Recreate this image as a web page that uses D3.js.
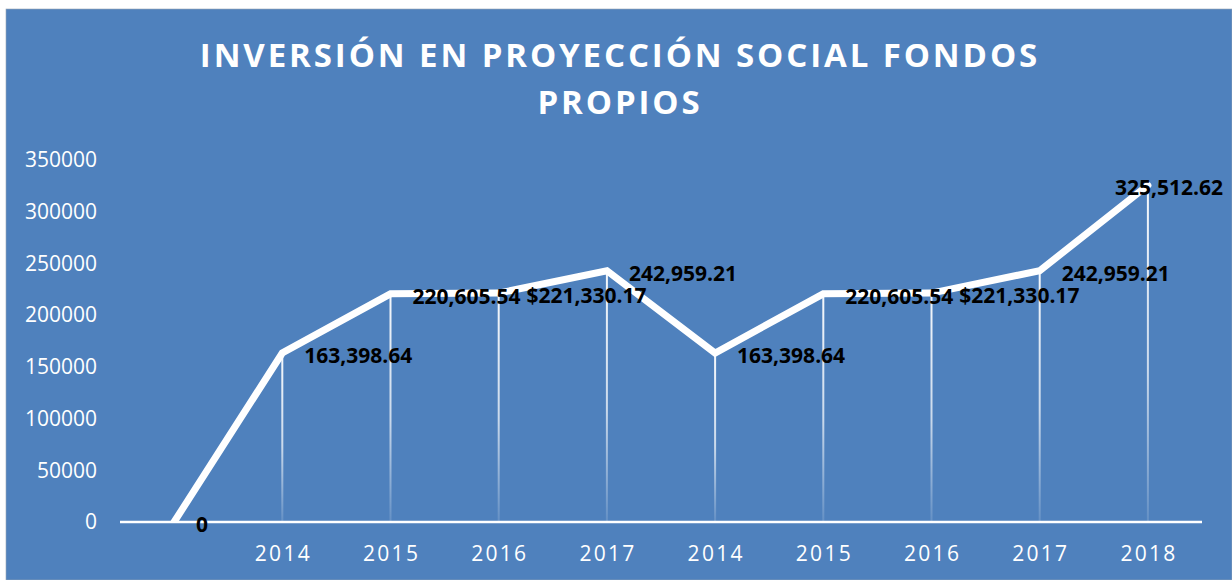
<!DOCTYPE html>
<html>
<head>
<meta charset="utf-8">
<script src="https://cdn.jsdelivr.net/npm/d3@7"></script>
<style>
  html, body { margin: 0; padding: 0; background: #ffffff; }
  svg { display: block; }
</style>
</head>
<body>
<svg id="chart" width="1232" height="580"></svg>
<script>
// ---- data ----
const categories = ["", "2014", "2015", "2016", "2017", "2014", "2015", "2016", "2017", "2018"];
const values = [0, 163398.64, 220605.54, 221330.17, 242959.21, 163398.64, 220605.54, 221330.17, 242959.21, 325512.62];
const valueLabels = ["0", "163,398.64", "220,605.54", "$221,330.17", "242,959.21", "163,398.64", "220,605.54", "$221,330.17", "242,959.21", "325,512.62"];
const yTicks = [0, 50000, 100000, 150000, 200000, 250000, 300000, 350000];
const titleLines = ["INVERSIÓN EN PROYECCIÓN SOCIAL FONDOS", "PROPIOS"];

// ---- layout ----
const W = 1232, H = 580;
const bg = "#4F81BD";
const plot = { left: 120, right: 1202, top: 160, bottom: 522 };

const svg = d3.select("#chart");
const defs = svg.append("defs");

svg.append("rect")
  .attr("x", 6).attr("y", 9)
  .attr("width", W - 6).attr("height", H - 9)
  .attr("fill", bg)
  .attr("stroke", "#9aa7b5").attr("stroke-width", 0.6);

// Title
const title = svg.append("text")
  .attr("text-anchor", "middle")
  .attr("fill", "#ffffff")
  .attr("font-family", "'Open Sans', sans-serif")
  .attr("font-weight", "bold")
  .attr("font-size", 33)
  .attr("letter-spacing", 2.9);
titleLines.forEach((t, i) => {
  title.append("tspan")
    .attr("x", 620)
    .attr("y", 67 + i * 47)
    .text(t);
});

// Scales
const x = d3.scaleBand()
  .domain(d3.range(categories.length))
  .range([plot.left, plot.right])
  .paddingInner(0).paddingOuter(0);
const cx = i => x(i) + x.bandwidth() / 2;

const y = d3.scaleLinear()
  .domain([0, 350000])
  .range([plot.bottom, plot.top]);

// Y axis (labels only)
const yAxis = svg.append("g")
  .attr("transform", `translate(${plot.left},0)`)
  .call(d3.axisLeft(y).tickValues(yTicks).tickSize(0).tickPadding(23).tickFormat(d3.format("d")));
yAxis.select(".domain").remove();
yAxis.selectAll("text")
  .attr("fill", "#ffffff")
  .attr("font-family", "'Open Sans', sans-serif")
  .attr("font-size", 21);

// X axis (labels)
const xAxis = svg.append("g")
  .attr("transform", `translate(0,${plot.bottom})`)
  .call(d3.axisBottom(x).tickSize(0).tickPadding(24).tickFormat(i => categories[i]));
xAxis.select(".domain").remove();
xAxis.selectAll("text")
  .attr("fill", "#ffffff")
  .attr("font-family", "'Open Sans', sans-serif")
  .attr("font-size", 21)
  .attr("letter-spacing", 2.3)
  .attr("dx", 1.1);

// Drop-line gradient
const grad = defs.append("linearGradient")
  .attr("id", "dropGrad")
  .attr("x1", 0).attr("y1", 0).attr("x2", 0).attr("y2", 1);
grad.append("stop").attr("offset", "0%").attr("stop-color", "#ffffff").attr("stop-opacity", 0.95);
grad.append("stop").attr("offset", "55%").attr("stop-color", "#ffffff").attr("stop-opacity", 0.7);
grad.append("stop").attr("offset", "100%").attr("stop-color", "#ffffff").attr("stop-opacity", 0.12);

const pts = values.map((v, i) => ({ i, v }));

svg.append("g").selectAll("rect")
  .data(pts.filter(d => d.v > 0))
  .join("rect")
  .attr("x", d => cx(d.i) - 1)
  .attr("y", d => y(d.v))
  .attr("width", 2)
  .attr("height", d => y(0) - y(d.v))
  .attr("fill", "url(#dropGrad)");

// Axis line
svg.append("line")
  .attr("x1", plot.left).attr("x2", plot.right)
  .attr("y1", y(0)).attr("y2", y(0))
  .attr("stroke", "#ffffff").attr("stroke-width", 2.5);

// Clip for line at bottom of plot
defs.append("clipPath").attr("id", "plotClip")
  .append("rect")
  .attr("x", 0).attr("y", 0)
  .attr("width", W).attr("height", y(0) + 1);

// Series line
const line = d3.line().x(d => cx(d.i)).y(d => y(d.v));
svg.append("path")
  .datum(pts)
  .attr("d", line)
  .attr("fill", "none")
  .attr("stroke", "#ffffff")
  .attr("stroke-width", 7)
  .attr("stroke-linejoin", "miter")
  .attr("stroke-linecap", "round")
  .attr("clip-path", "url(#plotClip)");

// Data labels (right of point; nudged to avoid overlaps and the chart edge)
const labels = svg.append("g").selectAll("text")
  .data(pts)
  .join("text")
  .attr("fill", "#000000")
  .attr("font-family", "'Open Sans', sans-serif")
  .attr("font-weight", "bold")
  .attr("font-size", 21)
  .attr("dominant-baseline", "central")
  .attr("y", d => y(d.v) + 2)
  .text(d => valueLabels[d.i]);
let prev = null;
labels.each(function(d) {
  const w = this.getComputedTextLength();
  const ly = y(d.v);
  let xi = cx(d.i) + 22;
  if (prev && Math.abs(prev.y - ly) < 16 && xi < prev.right + 6) xi = prev.right + 6;
  xi = Math.min(xi, 1223 - w);
  d3.select(this).attr("x", xi);
  prev = { y: ly, right: xi + w };
});
</script>
</body>
</html>
